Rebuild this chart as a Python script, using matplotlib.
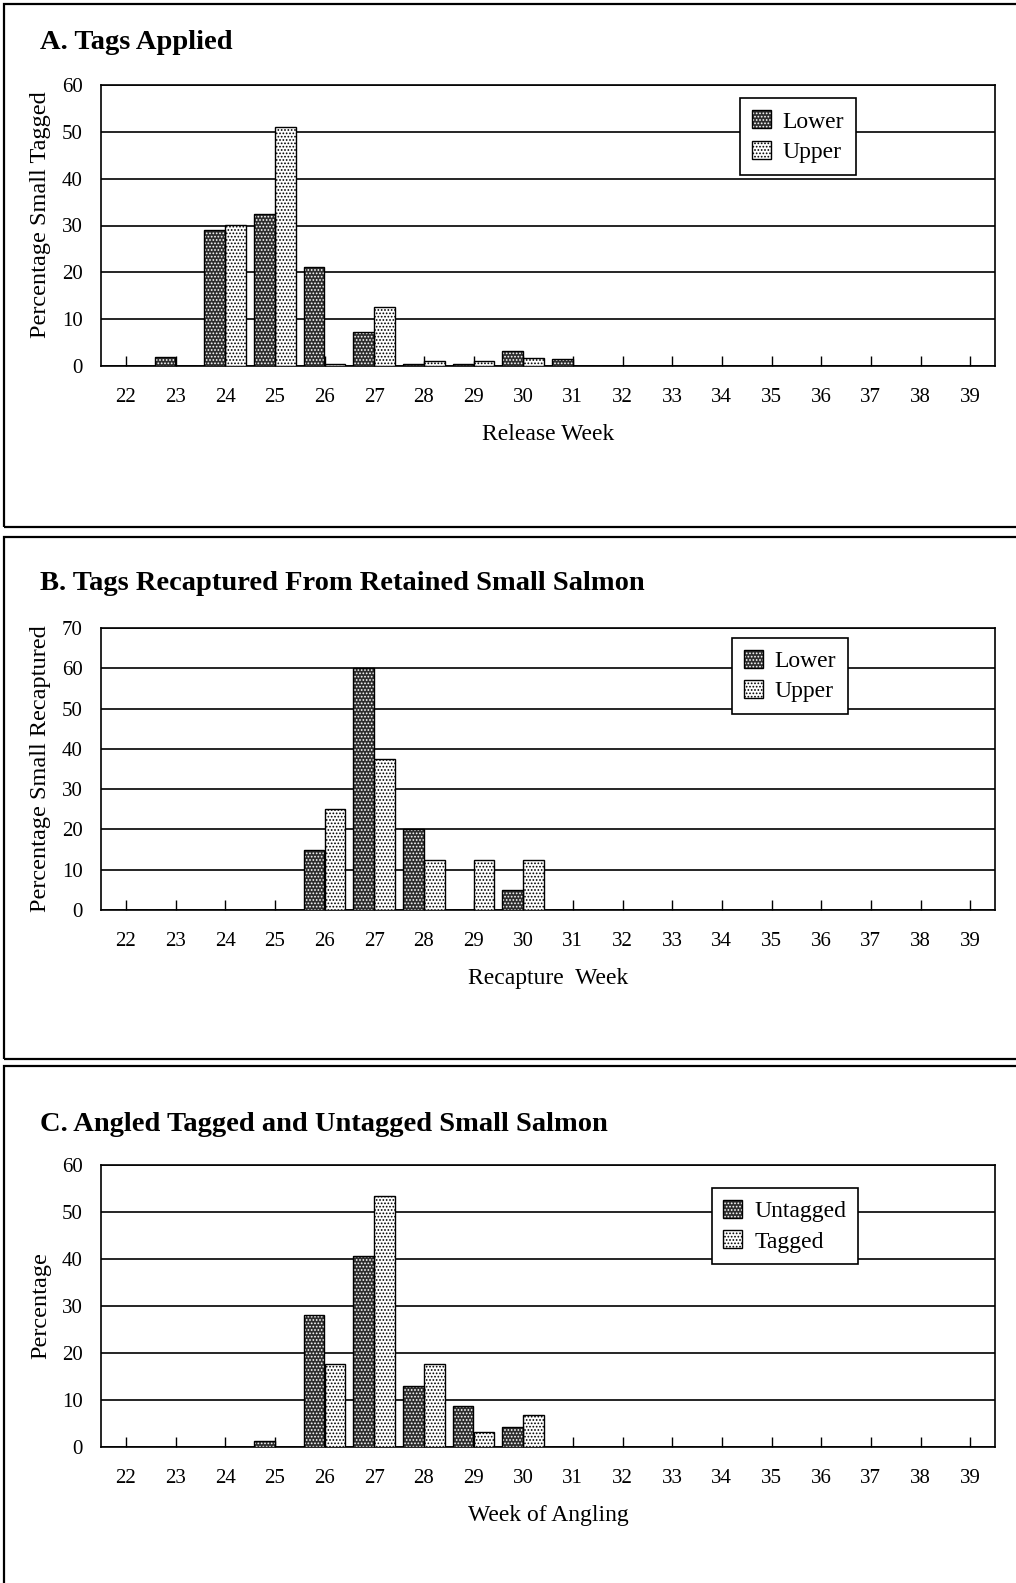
import matplotlib
matplotlib.use("Agg")
import matplotlib.pyplot as plt
from matplotlib.patches import Rectangle, Patch
from matplotlib.legend_handler import HandlerTuple

plt.rcParams['font.family'] = ['Liberation Serif', 'DejaVu Serif']
plt.rcParams['hatch.linewidth'] = 0.8

weeks = list(range(22, 40))
a_lower = [0, 2.0, 29.0, 32.5, 21.2, 7.2, 0.4, 0.5, 3.2, 1.5, 0, 0, 0, 0, 0, 0, 0, 0]
a_upper = [0, 0, 30.2, 51.0, 0.4, 12.6, 1.0, 1.0, 1.7, 0, 0, 0, 0, 0, 0, 0, 0, 0]
b_lower = [0, 0, 0, 0, 15.0, 60.0, 20.0, 0, 5.0, 0, 0, 0, 0, 0, 0, 0, 0, 0]
b_upper = [0, 0, 0, 0, 25.0, 37.5, 12.5, 12.5, 12.5, 0, 0, 0, 0, 0, 0, 0, 0, 0]
c_untagged = [0, 0, 0, 1.3, 28.0, 40.6, 12.9, 8.8, 4.3, 0, 0, 0, 0, 0, 0, 0, 0, 0]
c_tagged = [0, 0, 0, 0, 17.6, 53.4, 17.6, 3.2, 6.8, 0, 0, 0, 0, 0, 0, 0, 0, 0]

panels = [
    dict(title="A. Tags Applied", ylabel="Percentage Small Tagged", xlabel="Release Week",
         s1=a_lower, s2=a_upper, names=("Lower", "Upper"), ymax=60,
         axpos=(85, 366), title_base=49, leg=(0.715, 0.952), ylab_y=0.54),
    dict(title="B. Tags Recaptured From Retained Small Salmon", ylabel="Percentage Small Recaptured",
         xlabel="Recapture  Week", s1=b_lower, s2=b_upper, names=("Lower", "Upper"), ymax=70,
         axpos=(628, 910), title_base=590, leg=(0.706, 0.965), ylab_y=0.5),
    dict(title="C. Angled Tagged and Untagged Small Salmon", ylabel="Percentage",
         xlabel="Week of Angling", s1=c_untagged, s2=c_tagged, names=("Untagged", "Tagged"), ymax=60,
         axpos=(1165, 1447), title_base=1131, leg=(0.683, 0.918), ylab_y=0.5),
]

W, H = 1016, 1583
fig = plt.figure(figsize=(W / 100, H / 100), dpi=100)

# panel frames
frames = [(4, 527), (537, 1059), (1066, 1600)]
for top, bot in frames:
    fig.add_artist(Rectangle((4 / W, 1 - bot / H), (1030 - 4) / W, (bot - top) / H,
                             transform=fig.transFigure, fill=False, lw=1.6, ec='black'))

DARK = '#2e2e2e'
bw = 0.42
left_px, right_px = 101, 995

for p in panels:
    top, bot = p["axpos"]
    ax = fig.add_axes([left_px / W, 1 - bot / H, (right_px - left_px) / W, (bot - top) / H])
    xs1 = [w - bw / 2 for w in weeks]
    xs2 = [w + bw / 2 for w in weeks]
    ax.bar(xs1, p["s1"], width=bw, color=DARK, edgecolor='white', hatch='.....', lw=0, zorder=3)
    ax.bar(xs1, p["s1"], width=bw, facecolor='none', edgecolor='black', lw=1.0, zorder=4)
    ax.bar(xs2, p["s2"], width=bw, facecolor='white', edgecolor='black', hatch='.....', lw=1.0, zorder=3)
    ax.set_xlim(21.5, 39.5)
    ax.set_ylim(0, p["ymax"])
    ax.set_yticks(range(0, p["ymax"] + 1, 10))
    ax.set_xticks(weeks)
    ax.set_xticklabels([str(w) for w in weeks])
    ax.yaxis.grid(True, color='black', lw=1.2)
    ax.set_axisbelow(True)
    ax.tick_params(axis='x', direction='in', length=7, width=1.0, pad=16, labelsize=15)
    ax.tick_params(axis='y', length=0, pad=13, labelsize=15)
    for s in ax.spines.values():
        s.set_linewidth(1.2)
    ax.set_xlabel(p["xlabel"], fontsize=17, labelpad=12)
    ax.set_ylabel(p["ylabel"], fontsize=17.5)
    ax.yaxis.set_label_coords(-50 / (right_px - left_px), p["ylab_y"])
    fig.text(40 / W, 1 - p["title_base"] / H, p["title"], fontsize=20.5, fontweight='bold',
             va='baseline', ha='left')
    h1 = (Patch(facecolor=DARK, edgecolor='white', hatch='.....', lw=0),
          Patch(facecolor='none', edgecolor='black', lw=1.0))
    h2 = Patch(facecolor='white', edgecolor='black', hatch='.....', lw=1.0)
    leg = ax.legend([h1, h2], list(p["names"]), handler_map={tuple: HandlerTuple(ndivide=1)},
                    loc='upper left', bbox_to_anchor=p["leg"], borderaxespad=0,
                    fontsize=17, fancybox=False, framealpha=1, edgecolor='black',
                    handlelength=0.8, handleheight=0.8, handletextpad=0.5,
                    borderpad=0.5, labelspacing=0.35)
    leg.get_frame().set_linewidth(1.2)
    leg.set_zorder(10)

fig.savefig("out.png", dpi=100)
